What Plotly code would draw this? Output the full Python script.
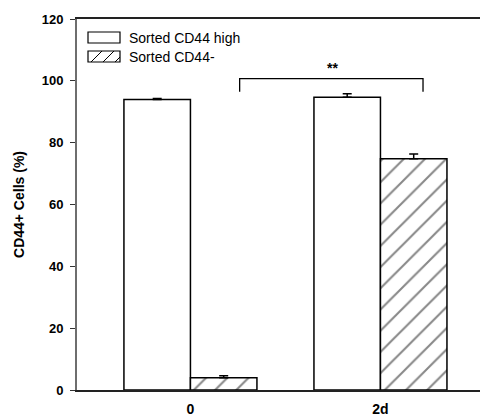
import plotly.graph_objects as go

categories = ["0", "2d"]
high_values = [94.0, 94.7]
high_err = [0.3, 1.1]
neg_values = [4.0, 74.8]
neg_err = [0.6, 1.5]
y_ticks = [0, 20, 40, 60, 80, 100, 120]
series_names = ["Sorted CD44 high", "Sorted CD44-"]

OFF = 8  # default page body margin
W, H = 488 - OFF, 419 - OFF
L, T, B, R = 77 - OFF, 19 - OFF, 29, 0
pw, ph = W - L - R, H - T - B
FONT = "Liberation Sans, Arial, sans-serif"


def px(x):
    return (x - OFF - L) / pw


def py(y):
    return (H + OFF - B - y) / ph


fig = go.Figure()
fig.add_trace(go.Bar(
    x=categories, y=high_values, name=series_names[0],
    marker=dict(color="white", line=dict(color="black", width=1.5)),
    error_y=dict(type="data", symmetric=False, array=high_err,
                 arrayminus=[0, 0], color="black", thickness=1.5, width=4.5),
    showlegend=False,
))
fig.add_trace(go.Bar(
    x=categories, y=neg_values, name=series_names[1],
    marker=dict(color="white", line=dict(color="black", width=1.5),
                pattern=dict(shape="/", size=15, solidity=0.14,
                             fgcolor="#111", bgcolor="white")),
    error_y=dict(type="data", symmetric=False, array=neg_err,
                 arrayminus=[0, 0], color="black", thickness=1.5, width=4.5),
    showlegend=False,
))

shapes = []
for y0, y1 in [(32, 43), (51, 62)]:
    shapes.append(dict(type="rect", xref="paper", yref="paper",
                       x0=px(88), x1=px(120), y0=py(y1), y1=py(y0),
                       line=dict(color="black", width=1.2), fillcolor="white"))
for x0 in [91, 103, 115]:
    xa, ya = x0, 62
    xb, yb = x0 + 11, 51
    if xb > 120:
        yb = 62 - (120 - x0)
        xb = 120
    shapes.append(dict(type="line", xref="paper", yref="paper",
                       x0=px(xa), y0=py(ya), x1=px(xb), y1=py(yb),
                       line=dict(color="black", width=1)))
shapes.append(dict(type="path", xref="x", yref="y",
                   path="M 0.259 96.5 L 0.259 100.7 L 1.224 100.7 L 1.224 96.5",
                   line=dict(color="black", width=1.3)))

annotations = [
    dict(text=series_names[0], xref="paper", yref="paper", x=px(127), y=py(37.5),
         xanchor="left", yanchor="middle", showarrow=False,
         font=dict(family=FONT, size=14, color="black")),
    dict(text=series_names[1], xref="paper", yref="paper", x=px(127), y=py(56.5),
         xanchor="left", yanchor="middle", showarrow=False,
         font=dict(family=FONT, size=14, color="black")),
    dict(text="<b>**</b>", xref="x", yref="y", x=0.748, y=100.9,
         xanchor="center", yanchor="bottom", showarrow=False,
         font=dict(family=FONT, size=14, color="black")),
]

fig.update_layout(
    width=W, height=H,
    margin=dict(l=L, r=R, t=T, b=B),
    paper_bgcolor="white", plot_bgcolor="white",
    barmode="group", bargap=0.3, bargroupgap=0,
    shapes=shapes, annotations=annotations,
    font=dict(family=FONT, color="black"),
    xaxis=dict(range=[-0.597, 1.566], showgrid=False, zeroline=False,
               showline=True, linecolor="#222", linewidth=1.5, mirror=True,
               ticks="", tickfont=dict(size=14), ticklabelstandoff=5,
               tickvals=categories, ticktext=["<b>%s</b>" % c for c in categories]),
    yaxis=dict(range=[0, 120], showgrid=False, zeroline=False,
               showline=True, linecolor="#6e6e6e", linewidth=2,
               ticks="outside", ticklen=5, tickwidth=1.2, tickcolor="#333",
               ticklabelstandoff=4,
               tickvals=y_ticks, ticktext=["<b>%d</b>" % v for v in y_ticks],
               tickfont=dict(size=13),
               title=dict(text="<b>CD44+ Cells (%)</b>", font=dict(size=14), standoff=14)),
)

fig.write_html("out.html")
